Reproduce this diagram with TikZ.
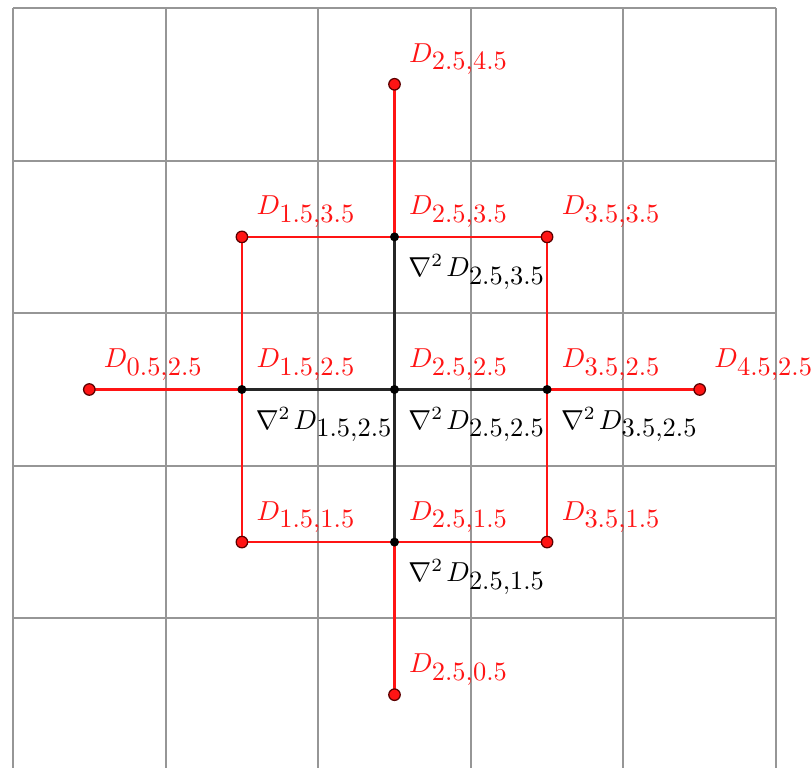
\documentclass[tikz,border=0pt]{standalone}
\usepackage{fix-cm}
\DeclareMathSizes{11}{11}{10.6}{7.5}
\definecolor{gridgray}{RGB}{150,150,150}
\definecolor{dred}{RGB}{255,20,20}
\definecolor{dotrim}{RGB}{90,0,0}
\begin{document}
\begin{tikzpicture}[x=2.15cm,y=2.15cm,
  gridline/.style={draw=gridgray,line width=0.75pt},
  redline/.style={draw=dred,line width=0.9pt},
  blackline/.style={draw=black!85,line width=0.9pt},
  reddot/.style={circle,fill=dred,draw=dotrim,line width=0.5pt,minimum size=4.6pt,inner sep=0pt},
  blackdot/.style={circle,fill=black,minimum size=3.6pt,inner sep=0pt},
  redlab/.style={anchor=base west,inner sep=0pt,text=dred,font=\fontsize{11}{13}\selectfont,xshift=0.2cm,yshift=0.31cm},
  blacklab/.style={anchor=base west,inner sep=0pt,text=black,font=\fontsize{11}{13}\selectfont,xshift=0.19cm,yshift=-0.56cm}]
\clip (-0.0852,0.0197) rectangle (5.236,5.0524);
% grid
\foreach \k in {0,...,5} {
  \draw[gridline] (\k,0) -- (\k,5);
  \draw[gridline] (0,\k) -- (5,\k);
}
% points
\foreach \i/\j in {2/4,1/3,2/3,3/3,0/2,1/2,2/2,3/2,4/2,1/1,2/1,3/1,2/0} {
  \coordinate (P\i\j) at (\i+0.5,\j+0.5);
}
% black connectors
\draw[blackline] (P23) -- (P21);
\draw[blackline] (P12) -- (P32);
% red connectors
\draw[redline] (P24) -- (P23);
\draw[redline] (P21) -- (P20);
\draw[redline] (P02) -- (P12);
\draw[redline] (P32) -- (P42);
\draw[redline] (P11) -- (P31) -- (P33) -- (P13) -- cycle;
% dots
\foreach \i/\j in {2/4,1/3,3/3,0/2,4/2,1/1,3/1,2/0} {
  \node[reddot] (R\i\j) at (P\i\j) {};
}
\foreach \i/\j in {2/3,1/2,2/2,3/2,2/1} {
  \node[blackdot] (B\i\j) at (P\i\j) {};
}
% labels
\foreach \i/\j in {2/4,1/3,2/3,3/3,0/2,1/2,2/2,3/2,4/2,1/1,2/1,3/1,2/0} {
  \node[redlab] (L\i\j) at (P\i\j) {$D_{\i.5,\j.5}$};
}
\foreach \i/\j in {2/3,1/2,2/2,3/2,2/1} {
  \node[blacklab] (N\i\j) at (P\i\j) {$\nabla^{\scriptscriptstyle 2}\mkern2mu D_{\i.5,\j.5}$};
}
\end{tikzpicture}
\end{document}
